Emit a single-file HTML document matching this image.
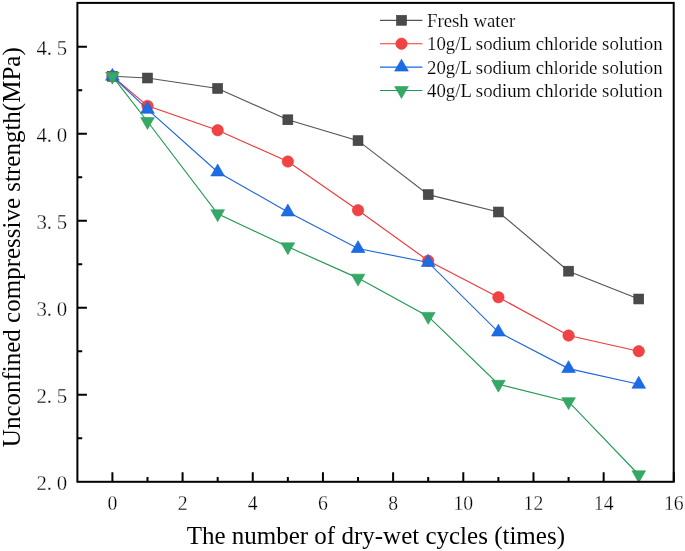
<!DOCTYPE html><html><head><meta charset="utf-8"><style>html,body{margin:0;padding:0;background:#fff;}svg{display:block;will-change:transform;}text{font-family:"Liberation Serif",serif;fill:#000;}.tk{stroke:#fff;stroke-width:0.3px;}.lg{stroke:#fff;stroke-width:0.15px;}</style></head><body>
<svg width="685" height="551" viewBox="0 0 685 551">
<rect width="685" height="551" fill="#fff"/>
<path d="M112.40 481.8 V472.30 M147.49 481.8 V477.00 M182.58 481.8 V472.30 M217.67 481.8 V477.00 M252.76 481.8 V472.30 M287.85 481.8 V477.00 M322.94 481.8 V472.30 M358.03 481.8 V477.00 M393.12 481.8 V472.30 M428.21 481.8 V477.00 M463.30 481.8 V472.30 M498.39 481.8 V477.00 M533.48 481.8 V472.30 M568.57 481.8 V477.00 M603.66 481.8 V472.30 M638.75 481.8 V477.00 M673.84 481.8 V472.30 M77.4 438.20 H82.20 M77.4 394.70 H86.90 M77.4 351.20 H82.20 M77.4 307.70 H86.90 M77.4 264.20 H82.20 M77.4 220.70 H86.90 M77.4 177.20 H82.20 M77.4 133.70 H86.90 M77.4 90.20 H82.20 M77.4 46.70 H86.90" stroke="#000" stroke-width="2" fill="none"/>
<polyline points="112.40,76.28 147.49,78.02 217.67,88.46 287.85,119.78 358.03,140.66 428.21,194.60 498.39,212.00 568.57,271.16 638.75,299.00" fill="none" stroke="#555555" stroke-width="1.15"/>
<rect x="107.45" y="71.33" width="9.9" height="9.9" fill="#4a4a4a" stroke="#3a3a3a" stroke-width="0.6"/>
<rect x="142.54" y="73.07" width="9.9" height="9.9" fill="#4a4a4a" stroke="#3a3a3a" stroke-width="0.6"/>
<rect x="212.72" y="83.51" width="9.9" height="9.9" fill="#4a4a4a" stroke="#3a3a3a" stroke-width="0.6"/>
<rect x="282.90" y="114.83" width="9.9" height="9.9" fill="#4a4a4a" stroke="#3a3a3a" stroke-width="0.6"/>
<rect x="353.08" y="135.71" width="9.9" height="9.9" fill="#4a4a4a" stroke="#3a3a3a" stroke-width="0.6"/>
<rect x="423.26" y="189.65" width="9.9" height="9.9" fill="#4a4a4a" stroke="#3a3a3a" stroke-width="0.6"/>
<rect x="493.44" y="207.05" width="9.9" height="9.9" fill="#4a4a4a" stroke="#3a3a3a" stroke-width="0.6"/>
<rect x="563.62" y="266.21" width="9.9" height="9.9" fill="#4a4a4a" stroke="#3a3a3a" stroke-width="0.6"/>
<rect x="633.80" y="294.05" width="9.9" height="9.9" fill="#4a4a4a" stroke="#3a3a3a" stroke-width="0.6"/>
<polyline points="112.40,76.28 147.49,105.86 217.67,130.22 287.85,161.54 358.03,210.26 428.21,260.72 498.39,297.26 568.57,335.54 638.75,351.20" fill="none" stroke="#ee3a3a" stroke-width="1.15"/>
<circle cx="112.40" cy="76.28" r="5.7" fill="#f04343" stroke="#ee3535" stroke-width="0.6"/>
<circle cx="147.49" cy="105.86" r="5.7" fill="#f04343" stroke="#ee3535" stroke-width="0.6"/>
<circle cx="217.67" cy="130.22" r="5.7" fill="#f04343" stroke="#ee3535" stroke-width="0.6"/>
<circle cx="287.85" cy="161.54" r="5.7" fill="#f04343" stroke="#ee3535" stroke-width="0.6"/>
<circle cx="358.03" cy="210.26" r="5.7" fill="#f04343" stroke="#ee3535" stroke-width="0.6"/>
<circle cx="428.21" cy="260.72" r="5.7" fill="#f04343" stroke="#ee3535" stroke-width="0.6"/>
<circle cx="498.39" cy="297.26" r="5.7" fill="#f04343" stroke="#ee3535" stroke-width="0.6"/>
<circle cx="568.57" cy="335.54" r="5.7" fill="#f04343" stroke="#ee3535" stroke-width="0.6"/>
<circle cx="638.75" cy="351.20" r="5.7" fill="#f04343" stroke="#ee3535" stroke-width="0.6"/>
<polyline points="112.40,76.28 147.49,109.34 217.67,171.98 287.85,212.00 358.03,248.54 428.21,262.46 498.39,332.06 568.57,368.60 638.75,384.26" fill="none" stroke="#1a66e0" stroke-width="1.15"/>
<polygon points="112.40,68.38 119.24,80.23 105.56,80.23" fill="#1c6ce4" stroke="#0f5edc" stroke-width="0.6" stroke-linejoin="miter"/>
<polygon points="147.49,101.44 154.33,113.29 140.65,113.29" fill="#1c6ce4" stroke="#0f5edc" stroke-width="0.6" stroke-linejoin="miter"/>
<polygon points="217.67,164.08 224.51,175.93 210.83,175.93" fill="#1c6ce4" stroke="#0f5edc" stroke-width="0.6" stroke-linejoin="miter"/>
<polygon points="287.85,204.10 294.69,215.95 281.01,215.95" fill="#1c6ce4" stroke="#0f5edc" stroke-width="0.6" stroke-linejoin="miter"/>
<polygon points="358.03,240.64 364.87,252.49 351.19,252.49" fill="#1c6ce4" stroke="#0f5edc" stroke-width="0.6" stroke-linejoin="miter"/>
<polygon points="428.21,254.56 435.05,266.41 421.37,266.41" fill="#1c6ce4" stroke="#0f5edc" stroke-width="0.6" stroke-linejoin="miter"/>
<polygon points="498.39,324.16 505.23,336.01 491.55,336.01" fill="#1c6ce4" stroke="#0f5edc" stroke-width="0.6" stroke-linejoin="miter"/>
<polygon points="568.57,360.70 575.41,372.55 561.73,372.55" fill="#1c6ce4" stroke="#0f5edc" stroke-width="0.6" stroke-linejoin="miter"/>
<polygon points="638.75,376.36 645.59,388.21 631.91,388.21" fill="#1c6ce4" stroke="#0f5edc" stroke-width="0.6" stroke-linejoin="miter"/>
<polyline points="112.40,76.28 147.49,121.52 217.67,213.74 287.85,246.80 358.03,278.12 428.21,316.40 498.39,384.26 568.57,401.66 638.75,474.74" fill="none" stroke="#1f9a50" stroke-width="1.15"/>
<polygon points="112.40,84.18 119.24,72.33 105.56,72.33" fill="#35a865" stroke="#2a9f5a" stroke-width="0.6" stroke-linejoin="miter"/>
<polygon points="147.49,129.42 154.33,117.57 140.65,117.57" fill="#35a865" stroke="#2a9f5a" stroke-width="0.6" stroke-linejoin="miter"/>
<polygon points="217.67,221.64 224.51,209.79 210.83,209.79" fill="#35a865" stroke="#2a9f5a" stroke-width="0.6" stroke-linejoin="miter"/>
<polygon points="287.85,254.70 294.69,242.85 281.01,242.85" fill="#35a865" stroke="#2a9f5a" stroke-width="0.6" stroke-linejoin="miter"/>
<polygon points="358.03,286.02 364.87,274.17 351.19,274.17" fill="#35a865" stroke="#2a9f5a" stroke-width="0.6" stroke-linejoin="miter"/>
<polygon points="428.21,324.30 435.05,312.45 421.37,312.45" fill="#35a865" stroke="#2a9f5a" stroke-width="0.6" stroke-linejoin="miter"/>
<polygon points="498.39,392.16 505.23,380.31 491.55,380.31" fill="#35a865" stroke="#2a9f5a" stroke-width="0.6" stroke-linejoin="miter"/>
<polygon points="568.57,409.56 575.41,397.71 561.73,397.71" fill="#35a865" stroke="#2a9f5a" stroke-width="0.6" stroke-linejoin="miter"/>
<polygon points="638.75,482.64 645.59,470.79 631.91,470.79" fill="#35a865" stroke="#2a9f5a" stroke-width="0.6" stroke-linejoin="miter"/>
<rect x="77.4" y="2.9" width="596.30" height="478.90" fill="none" stroke="#000" stroke-width="2.0"/>
<text class="tk" transform="translate(112.40,509.6) scale(0.95,1)" font-size="20.8" text-anchor="middle">0</text>
<text class="tk" transform="translate(182.58,509.6) scale(0.95,1)" font-size="20.8" text-anchor="middle">2</text>
<text class="tk" transform="translate(252.76,509.6) scale(0.95,1)" font-size="20.8" text-anchor="middle">4</text>
<text class="tk" transform="translate(322.94,509.6) scale(0.95,1)" font-size="20.8" text-anchor="middle">6</text>
<text class="tk" transform="translate(393.12,509.6) scale(0.95,1)" font-size="20.8" text-anchor="middle">8</text>
<text class="tk" transform="translate(463.30,509.6) scale(0.95,1)" font-size="20.8" text-anchor="middle">10</text>
<text class="tk" transform="translate(533.48,509.6) scale(0.95,1)" font-size="20.8" text-anchor="middle">12</text>
<text class="tk" transform="translate(603.66,509.6) scale(0.95,1)" font-size="20.8" text-anchor="middle">14</text>
<text class="tk" transform="translate(673.84,509.6) scale(0.95,1)" font-size="20.8" text-anchor="middle">16</text>
<text class="tk" y="489.80" font-size="20.8" text-anchor="middle"><tspan x="41.7">2</tspan><tspan x="49.3">.</tspan><tspan x="62.0">0</tspan></text>
<text class="tk" y="402.80" font-size="20.8" text-anchor="middle"><tspan x="41.7">2</tspan><tspan x="49.3">.</tspan><tspan x="62.0">5</tspan></text>
<text class="tk" y="315.80" font-size="20.8" text-anchor="middle"><tspan x="41.7">3</tspan><tspan x="49.3">.</tspan><tspan x="62.0">0</tspan></text>
<text class="tk" y="228.80" font-size="20.8" text-anchor="middle"><tspan x="41.7">3</tspan><tspan x="49.3">.</tspan><tspan x="62.0">5</tspan></text>
<text class="tk" y="141.80" font-size="20.8" text-anchor="middle"><tspan x="41.7">4</tspan><tspan x="49.3">.</tspan><tspan x="62.0">0</tspan></text>
<text class="tk" y="54.80" font-size="20.8" text-anchor="middle"><tspan x="41.7">4</tspan><tspan x="49.3">.</tspan><tspan x="62.0">5</tspan></text>
<text x="375.8" y="543.9" font-size="25" text-anchor="middle">The number of dry-wet cycles (times)</text>
<text transform="translate(20.3,247.2) rotate(-90)" x="0" y="0" font-size="25" text-anchor="middle">Unconfined compressive strength(MPa)</text>
<line x1="380" y1="20.30" x2="422.4" y2="20.30" stroke="#555555" stroke-width="1.15"/>
<rect x="396.55" y="15.35" width="9.9" height="9.9" fill="#4a4a4a" stroke="#3a3a3a" stroke-width="0.6"/>
<line x1="380" y1="43.70" x2="422.4" y2="43.70" stroke="#ee3a3a" stroke-width="1.15"/>
<circle cx="401.50" cy="43.70" r="5.7" fill="#f04343" stroke="#ee3535" stroke-width="0.6"/>
<line x1="380" y1="67.10" x2="422.4" y2="67.10" stroke="#1a66e0" stroke-width="1.15"/>
<polygon points="401.50,59.20 408.34,71.05 394.66,71.05" fill="#1c6ce4" stroke="#0f5edc" stroke-width="0.6" stroke-linejoin="miter"/>
<line x1="380" y1="90.50" x2="422.4" y2="90.50" stroke="#1f9a50" stroke-width="1.15"/>
<polygon points="401.50,98.40 408.34,86.55 394.66,86.55" fill="#35a865" stroke="#2a9f5a" stroke-width="0.6" stroke-linejoin="miter"/>
<text class="lg" x="427.0" y="26.70" font-size="18.8">Fresh water</text>
<text class="lg" x="427.0" y="50.10" font-size="18.8">10g/L sodium chloride solution</text>
<text class="lg" x="427.0" y="73.50" font-size="18.8">20g/L sodium chloride solution</text>
<text class="lg" x="427.0" y="96.90" font-size="18.8">40g/L sodium chloride solution</text>
</svg></body></html>
